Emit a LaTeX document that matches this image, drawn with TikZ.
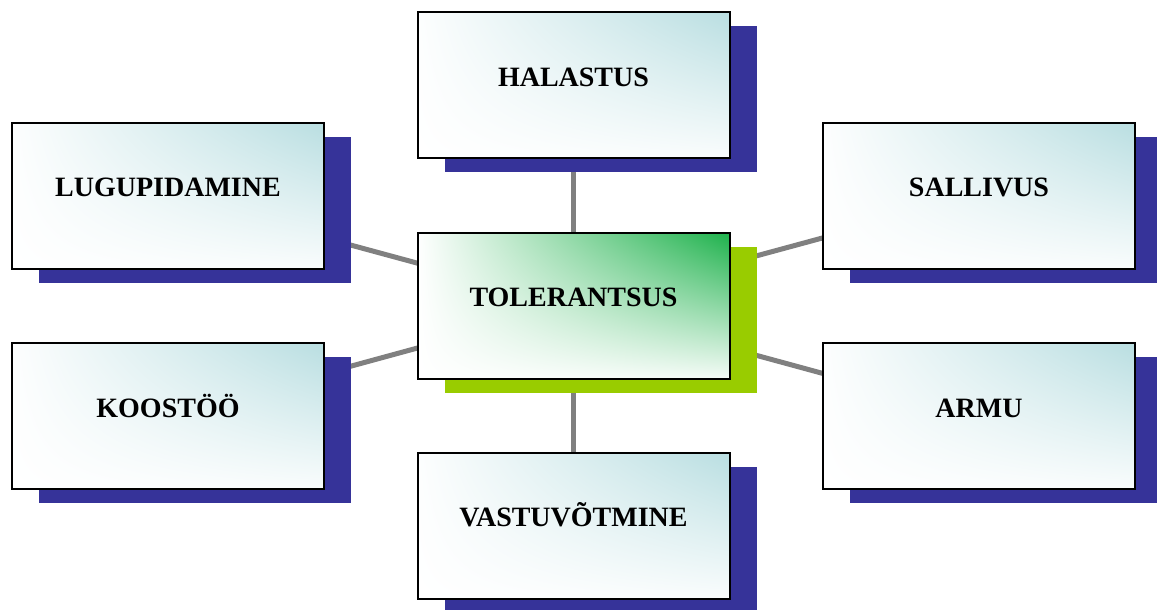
\documentclass[tikz,border=0pt]{standalone}
\usepackage{fontspec}
\setmainfont{Liberation Serif}
\usetikzlibrary{shadows,shadings}
\pgfdeclarelayer{background}
\pgfsetlayers{background,main}
\definecolor{shadeblue}{RGB}{54,51,153}
\definecolor{shadelime}{RGB}{153,204,0}
\definecolor{boxteal}{RGB}{185,222,225}
\definecolor{boxgreen}{RGB}{29,177,75}
\definecolor{linkgray}{RGB}{128,128,128}

\begin{document}
\begin{tikzpicture}
  [x=1pt, y=-1pt,
   every node/.style={draw=black, line width=2pt, minimum width=312pt, minimum height=146pt,
                      inner sep=0pt, text height=20pt, text depth=18pt,
                      font=\fontsize{28}{30}\selectfont\bfseries},
   word/.style={upper left=white!97!boxteal, upper right=boxteal, lower left=white, lower right=white!92!boxteal,
                general shadow={fill=shadeblue, shadow xshift=27pt, shadow yshift=-14pt}},
   core/.style={upper left=white, upper right=boxgreen, lower left=white, lower right=white!95!boxgreen,
                general shadow={fill=shadelime, shadow xshift=27pt, shadow yshift=-14pt}},
   link/.style={draw=linkgray, line width=5pt}]
  \useasboundingbox (0,0) rectangle (1157,610);
  \node [core] (tol) at (573.5,305.5) {TOLERANTSUS};
  \node [word] (hal) at (573.5,85) {HALASTUS};
  \node [word] (vas) at (573.5,525.5) {VASTUVÕTMINE};
  \node [word] (lug) at (168,195.5) {LUGUPIDAMINE};
  \node [word] (koo) at (168,416) {KOOSTÖÖ};
  \node [word] (sal) at (979,195.5) {SALLIVUS};
  \node [word] (arm) at (979,416) {ARMU};
  \begin{pgfonlayer}{background}
    \foreach \n in {hal,vas,lug,koo,sal,arm}
      \draw [link] (tol.center) -- (\n.center);
  \end{pgfonlayer}
\end{tikzpicture}
\end{document}
